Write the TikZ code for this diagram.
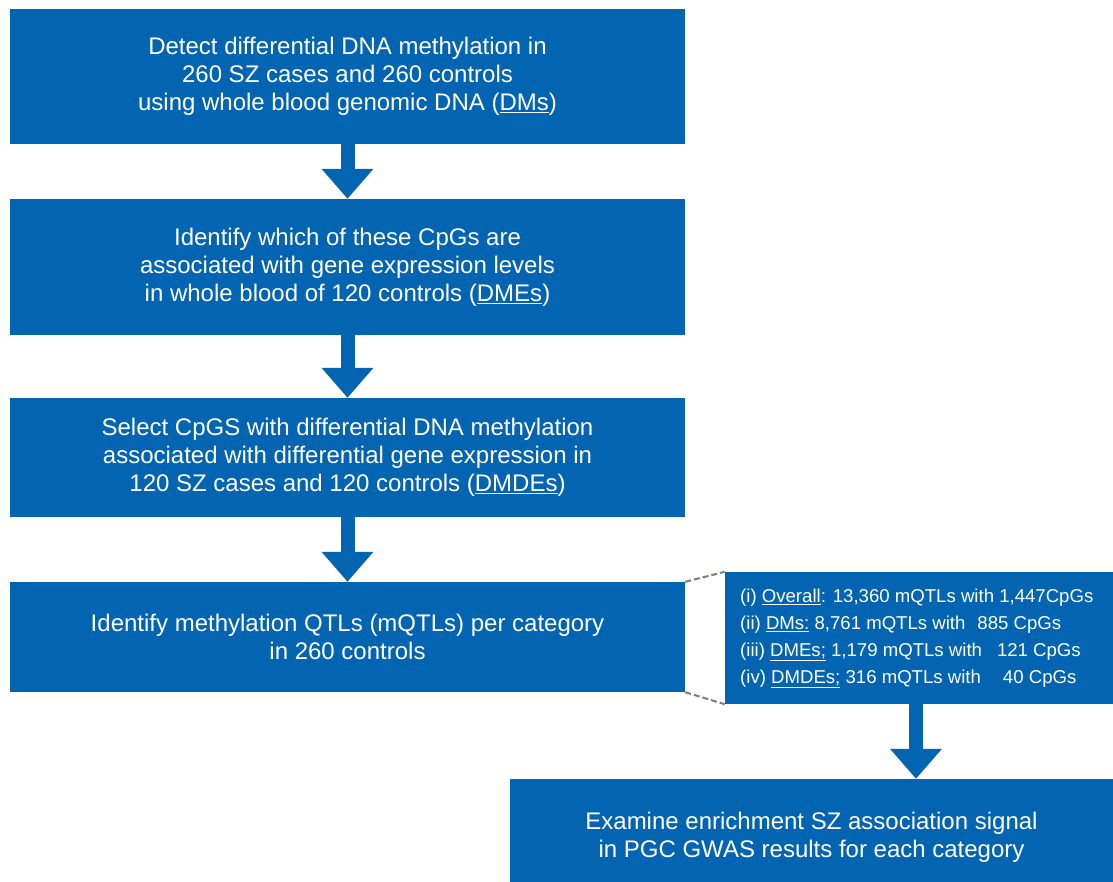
\documentclass[tikz,border=0pt]{standalone}
\usepackage{fontspec}
\setmainfont{Liberation Sans}
\usetikzlibrary{arrows.meta}
\definecolor{flowblue}{RGB}{3,101,178}
\definecolor{dashgrey}{RGB}{120,124,135}
\tikzset{
  flowbox/.style={fill=flowblue, text=white, inner sep=0pt, align=center,
    font=\fontsize{24}{28}\selectfont},
  flowarrow/.style={draw=flowblue, line width=14pt, -{Triangle[width=50pt,length=30pt]}},
  zoomline/.style={draw=dashgrey, line width=2pt, dash pattern=on 6pt off 3pt},
  listtext/.style={text=white, inner sep=0pt, align=left, anchor=north west,
    font=\fontsize{18.6}{27}\selectfont}
}
\begin{document}
\begin{tikzpicture}[x=1pt,y=-1pt]
\clip (0,0) rectangle (1113,881);
\fill[white] (0,0) rectangle (1113,881);

\node[flowbox, minimum width=675pt, minimum height=135pt] (b1) at (347.5,76.5)
  {Detect differential DNA methylation in\\260 SZ cases and 260 controls\\using whole blood genomic DNA (\underline{DMs})};
\node[flowbox, minimum width=675pt, minimum height=136pt] (b2) at (347.5,267)
  {Identify which of these CpGs are\\associated with gene expression levels\\in whole blood of 120 controls (\underline{DMEs})};
\node[flowbox, minimum width=675pt, minimum height=119pt] (b3) at (347.5,457.5)
  {Select CpGS with differential DNA methylation\\associated with differential gene expression in\\120 SZ cases and 120 controls (\underline{DMDEs})};
\node[flowbox, minimum width=675pt, minimum height=110pt] (b4) at (347.5,637)
  {Identify methylation QTLs (mQTLs) per category\\in 260 controls};
\node[flowbox, minimum width=388pt, minimum height=132pt] (b5) at (919,638) {};
\node[listtext] (t5) at (740,589)
  {(i) \underline{Overall}: 13,360 mQTLs with 1,447CpGs\\
   (ii) \underline{DMs:} 8,761 mQTLs with\hspace{12pt}885 CpGs\\
   (iii) \underline{DMEs;} 1,179 mQTLs with\hspace{15pt}121 CpGs\\
   (iv) \underline{DMDEs;} 316 mQTLs with\hspace{22pt}40 CpGs};
\node[flowbox, minimum width=603pt, minimum height=116pt] (b6) at (811.5,837)
  {Examine enrichment SZ association signal\\in PGC GWAS results for each category};

\draw[flowarrow] (b1.south) -- (b2.north);
\draw[flowarrow] (b2.south) -- (b3.north);
\draw[flowarrow] (b3.south) -- (b4.north);
\draw[flowarrow] ([xshift=-3pt]b5.south) -- ([xshift=-3pt]b5.south |- b6.north);

\draw[zoomline] (b4.north east) -- (b5.north west);
\draw[zoomline] (b4.south east) -- (b5.south west);
\end{tikzpicture}
\end{document}
